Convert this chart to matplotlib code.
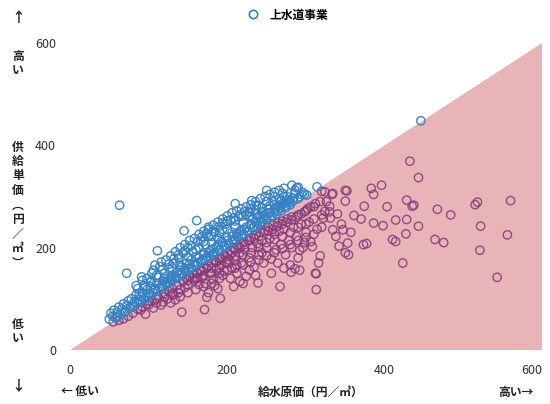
import matplotlib
matplotlib.use("Agg")
import matplotlib.pyplot as plt
from matplotlib.lines import Line2D

plt.rcParams['font.family'] = ['Noto Sans CJK JP', 'DejaVu Sans']

# 給水原価 (x) と 供給単価 (y), 単位: 円/m3  -- 読み取り値
# 供給単価 > 給水原価 (青)
blue_x = [50, 52, 54, 56, 58, 60, 62, 64, 66, 68, 70,
          72, 74, 76, 78, 80, 82, 84, 86, 88, 90, 92, 94, 96, 98, 91, 72, 63,
          100, 102, 104, 106, 108, 110, 112, 114, 116, 118, 120, 122, 124, 126, 128, 130,
          132, 134, 136, 138, 140, 142, 144, 146, 148, 150, 152, 154, 156, 158, 160, 145, 161, 111,
          162, 164, 166, 168, 170, 172, 174, 176, 178, 180, 182, 184, 186, 188, 190, 176,
          192, 194, 196, 198, 200, 202, 204, 206, 208, 210, 210, 212, 214, 216, 218, 220,
          222, 224, 226, 228, 230, 231, 232, 234, 236, 237, 238, 240, 242, 244, 246, 248, 250, 250,
          252, 254, 256, 258, 260, 262, 264, 266, 268, 270, 272, 274, 276, 278, 280, 282, 284, 286,
          288, 290, 292, 294, 296, 298, 301, 314, 446,
          60, 70, 80, 90, 100, 106, 112, 118, 124, 130, 136, 142, 148, 154, 160, 166, 172, 178,
          184, 190, 196, 202, 208, 214, 220, 226, 232, 238, 244, 250, 256, 262, 268, 274, 280,
          120, 140, 160, 180, 200, 220, 240, 260, 130, 150, 170, 190, 210, 230, 250, 270,
          84, 92, 98, 104, 108, 116, 122, 128, 134, 140, 146, 152, 158, 164, 170, 176, 182, 188,
          194, 200, 206, 212, 218, 224, 230, 236, 242, 248, 254, 260, 266, 272,
          88, 96, 102, 110, 118, 126, 132, 138, 146, 154, 162, 168, 174, 182, 188, 194, 200, 208,
          216, 222, 228, 236, 244, 252, 260, 268, 276, 286,
          86, 94, 102, 108, 114, 122, 128, 134, 140, 146, 152, 158, 164, 170, 176, 182, 188, 194,
          200, 206, 212, 218, 224, 230, 236, 242, 248, 254, 260, 266, 272, 278, 284, 290]
blue_y = [60, 72, 66, 78, 64, 74, 84, 70, 80, 90, 76,
          86, 96, 82, 100, 90, 94, 108, 120, 98, 104, 112, 126, 102, 118, 143, 150, 283,
          110, 124, 136, 156, 118, 130, 142, 163, 124, 134, 150, 128, 140, 158, 136, 146,
          170, 142, 152, 180, 148, 162, 190, 154, 170, 200, 160, 176, 192, 166, 182, 233, 253, 194,
          170, 200, 214, 176, 190, 206, 182, 222, 194, 210, 186, 230, 200, 218, 196, 240,
          212, 236, 204, 246, 220, 208, 254, 230, 214, 286, 240, 222, 260, 232, 224, 250,
          236, 264, 230, 270, 244, 292, 256, 240, 274, 283, 248, 262, 250, 278, 256, 266, 312, 258,
          268, 282, 262, 290, 270, 280, 272, 296, 278, 286, 300, 282, 292, 294, 288, 322, 296, 306,
          317, 318, 300, 304, 308, 304, 303, 319, 448,
          64, 74, 84, 95, 104, 112, 116, 124, 130, 136, 140, 148, 152, 160, 166, 172, 178, 184,
          190, 194, 202, 206, 212, 220, 226, 232, 238, 242, 250, 254, 262, 266, 272, 278, 284,
          140, 166, 196, 222, 236, 262, 282, 300, 160, 182, 212, 230, 252, 276, 290, 306,
          126, 136, 140, 150, 166, 172, 176, 184, 192, 200, 206, 214, 218, 226, 232, 236, 244, 250,
          256, 262, 268, 272, 276, 280, 284, 290, 296, 300, 304, 308, 312, 316,
          110, 124, 132, 146, 158, 168, 178, 186, 194, 204, 212, 222, 228, 232, 240, 248, 252, 258,
          264, 270, 262, 266, 270, 276, 284, 292, 300, 312,
          92, 100, 108, 120, 122, 132, 140, 144, 156, 160, 168, 172, 180, 186, 190, 198, 206, 210,
          214, 222, 228, 234, 240, 246, 250, 258, 262, 268, 276, 282, 288, 290, 292, 296]

# 供給単価 < 給水原価 (紫)
purple_x = [55, 62, 68, 74, 80, 86, 92, 98, 106, 118, 142, 100, 110, 90, 96,
            104, 112, 120, 126, 130, 136, 140, 144, 148, 150, 116, 124, 132, 138, 146, 128, 134,
            152, 156, 158, 162, 166, 168, 170, 172, 174, 171, 176, 178, 180, 182, 184, 186, 188,
            190, 191, 192, 194, 196, 198, 200, 160, 164, 176, 184, 190, 196,
            202, 204, 206, 208, 210, 212, 214, 216, 218, 220, 222, 224, 226, 228, 230, 232, 234,
            236, 238, 239, 240, 242, 244, 246, 248, 250, 204, 212, 220, 228, 236, 244, 208, 216,
            252, 254, 256, 258, 260, 262, 264, 266, 267, 268, 270, 272, 274, 276, 278, 280, 281,
            282, 284, 286, 288, 290, 292, 292, 294, 296, 298, 300, 256, 264, 272, 282, 290, 298,
            302, 304, 306, 308, 310, 312, 313, 314, 316, 318, 320, 322, 324, 326, 330, 331, 333,
            334, 338, 340, 342, 345, 347, 350, 350, 350, 353, 354, 357, 313, 324, 334, 352,
            361, 370, 373, 374, 377, 383, 386, 386, 396, 398, 403, 410, 414, 414, 423, 428, 428,
            427, 432, 435, 437, 443, 443,
            464, 467, 475, 484, 515, 518, 521, 522, 543, 556, 560,
            150, 156, 162, 168, 174, 180, 186, 192, 198, 204, 210, 216, 222, 228, 234, 240, 246, 252,
            258, 264, 270, 276, 282, 288, 294, 300, 306, 312, 318,
            160, 170, 180, 190, 200, 210, 220, 230, 240, 250, 260, 270, 280, 290, 300, 310, 320, 330,
            170, 180, 190, 200, 210, 220, 230, 240, 250, 260, 270, 280, 290, 300, 310, 320,
            150, 140, 130, 120, 110, 100]
purple_y = [55, 58, 61, 66, 72, 80, 84, 90, 82, 94, 74, 96, 100, 78, 70,
            96, 104, 110, 114, 120, 126, 118, 134, 140, 128, 88, 100, 108, 112, 122, 92, 98,
            144, 148, 136, 150, 156, 142, 160, 130, 103, 79, 164, 150, 170, 138, 176, 158, 120,
            180, 101, 166, 146, 186, 172, 190, 118, 128, 112, 126, 140, 154,
            176, 194, 160, 200, 184, 150, 204, 190, 170, 210, 196, 144, 214, 180, 220, 200, 162,
            226, 208, 131, 186, 230, 214, 170, 234, 200, 140, 166, 130, 156, 146, 190, 124, 134,
            240, 218, 178, 244, 226, 196, 248, 232, 124, 206, 252, 236, 186, 256, 214, 166, 152,
            260, 240, 159, 222, 264, 156, 195, 246, 200, 270, 230, 150, 170, 160, 200, 180, 210,
            276, 250, 212, 202, 280, 150, 118, 236, 170, 184, 310, 258, 271, 290, 281, 258, 304,
            235, 222, 266, 203, 246, 235, 312, 291, 190, 209, 186, 230, 149, 309, 306, 311,
            263, 256, 206, 281, 208, 316, 304, 248, 322, 243, 280, 216, 212, 254, 170, 293, 255,
            227, 369, 281, 283, 337, 242,
            216, 275, 210, 264, 284, 289, 195, 242, 142, 225, 292,
            136, 140, 140, 154, 160, 160, 172, 178, 182, 186, 196, 200, 206, 214, 218, 222, 230, 232,
            236, 242, 246, 250, 254, 260, 266, 272, 280, 286, 290,
            140, 146, 150, 160, 170, 176, 186, 190, 200, 210, 216, 222, 230, 240, 246, 256, 264, 270,
            124, 130, 150, 156, 160, 166, 172, 176, 184, 190, 198, 206, 214, 220, 226, 240,
            112, 104, 110, 104, 92, 88]

blue_c = '#3581c4'
purple_c = '#85387a'
pink_c = '#e9b4b8'

fig = plt.figure(figsize=(5.5, 4.04), dpi=100)
ax = fig.add_axes([70 / 550, 54 / 404, 472 / 550, 307 / 404])

# 給水原価 > 供給単価 の領域
ax.fill([0, 600, 600], [0, 600, 0], color=pink_c, lw=0, zorder=0)

ax.scatter(purple_x, purple_y, s=36, facecolors='none', edgecolors=purple_c,
           linewidths=1.0, alpha=0.85, zorder=2)
ax.scatter(blue_x, blue_y, s=36, facecolors='none', edgecolors=blue_c,
           linewidths=1.0, alpha=0.95, zorder=3)

ax.set_xlim(0, 600)
ax.set_ylim(0, 600)
ax.set_xticks([0, 200, 400, 600])
ax.set_yticks([0, 200, 400, 600])
ax.tick_params(length=0, labelsize=9, labelcolor='#333333', pad=10)
ax.get_xticklabels()[-1].set_horizontalalignment('right')
for sp in ax.spines.values():
    sp.set_visible(False)

# 凡例
h = Line2D([], [], ls='none', marker='o', ms=6, mfc='none', mec=blue_c, mew=1.2)
fig.legend([h], ['上水道事業'], loc='center', bbox_to_anchor=(285 / 550, 1 - 15 / 404),
           frameon=False, handletextpad=0.4, prop={'weight': 'bold', 'size': 8.5})

# 軸ラベル
def ftxt(px, py, s, **kw):
    fig.text(px / 550, 1 - py / 404, s, ha='center', va='center', color='#222222', **kw)

ftxt(311, 392, '給水原価（円／㎥）', fontsize=8.5, weight='bold')
ftxt(80, 392, '← 低い', fontsize=8.5, weight='bold')
ftxt(516, 392, '高い→', fontsize=8.5, weight='bold')

ftxt(18, 205, '供\n給\n単\n価\n︵\n円\n／\n㎥\n︶', fontsize=8.5, weight='bold', linespacing=1.15)
ftxt(18, 18, '↑', fontsize=10, weight='bold')
ftxt(18, 63, '高\nい', fontsize=8.5, weight='bold', linespacing=1.1)
ftxt(18, 332, '低\nい', fontsize=8.5, weight='bold', linespacing=1.1)
ftxt(18, 386, '↓', fontsize=10, weight='bold')

fig.savefig('out.png', dpi=100)
